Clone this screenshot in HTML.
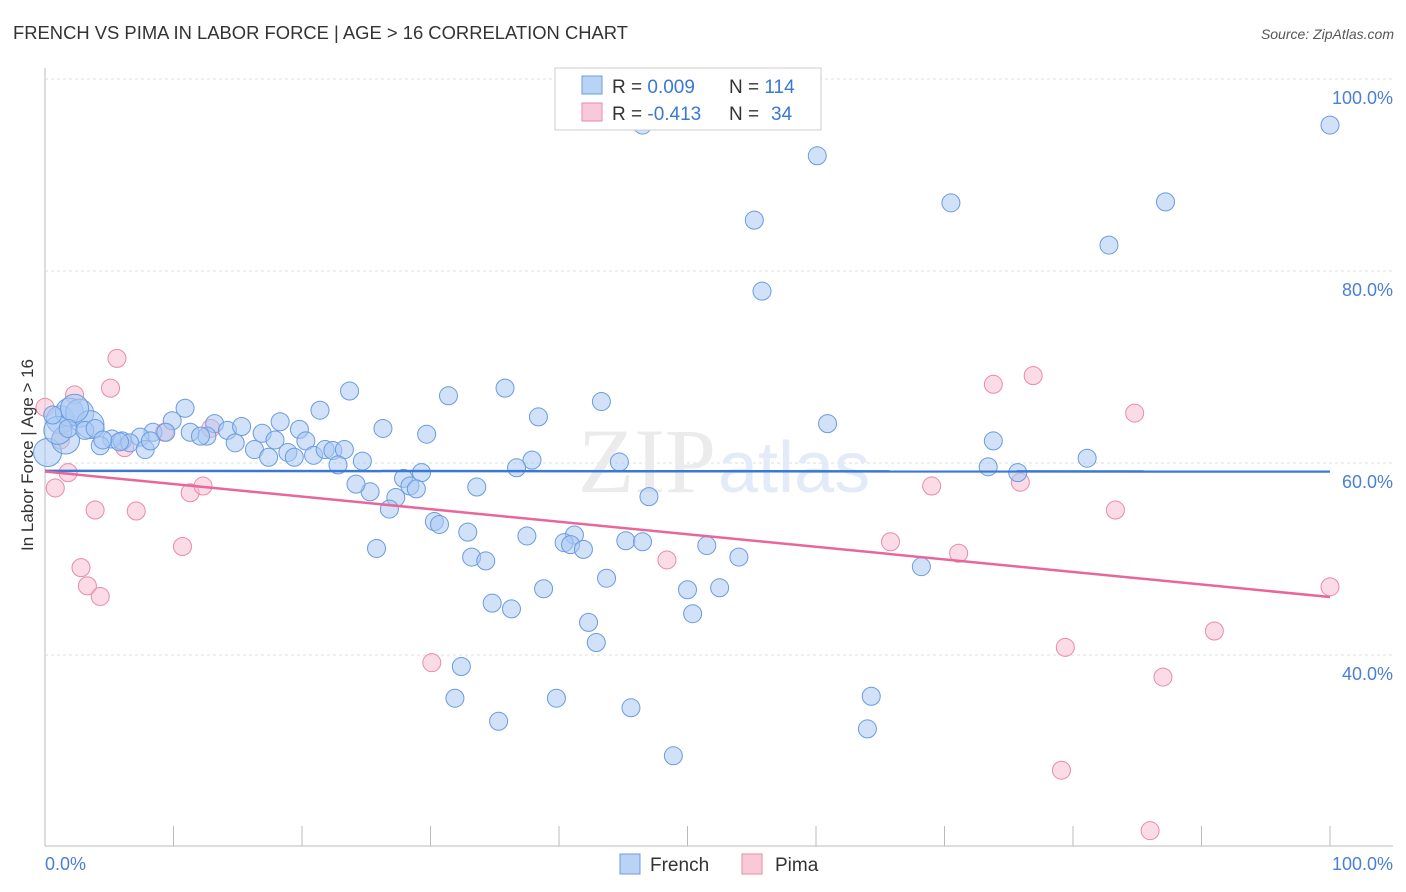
<!DOCTYPE html>
<html><head><meta charset="utf-8"><style>
body{margin:0;background:#fff;font-family:"Liberation Sans",sans-serif;}
svg{display:block}
</style></head><body>
<svg id="chart" width="1406" height="892">
<text x="13" y="39" font-size="18" fill="#333" textLength="615" lengthAdjust="spacingAndGlyphs">FRENCH VS PIMA IN LABOR FORCE | AGE &gt; 16 CORRELATION CHART</text>
<text x="1394" y="39" font-size="14" fill="#555" font-style="italic" text-anchor="end">Source: ZipAtlas.com</text>
<g id="grid"></g>
<text x="716" y="492" font-size="92" fill="#ebebeb" text-anchor="end" font-family="Liberation Serif">ZIP</text>
<text x="718" y="492" font-size="72" fill="#e2ebf7">atlas</text>
<g id="marks"></g>
<text transform="translate(33,455) rotate(-90)" font-size="17" fill="#333" text-anchor="middle">In Labor Force | Age &gt; 16</text>
<text x="45" y="870" font-size="18" fill="#4a7fd4">0.0%</text>
<text x="1393" y="870" font-size="18" fill="#4a7fd4" text-anchor="end">100.0%</text>
<g>
<rect x="555" y="68" width="266" height="62" fill="#fff" stroke="#ccc"/>
<rect x="582" y="76" width="20" height="18" fill="#b9d3f5" stroke="#6a9be0"/>
<rect x="582" y="103" width="20" height="18" fill="#f9c9d8" stroke="#e88aa8"/>
<text x="612" y="93" font-size="19" fill="#333">R = <tspan fill="#3a78d4">0.009</tspan><tspan x="729">N = </tspan><tspan fill="#3a78d4">114</tspan></text>
<text x="612" y="120" font-size="19" fill="#333">R = <tspan fill="#3a78d4">-0.413</tspan><tspan x="729">N = </tspan><tspan fill="#3a78d4" x="771">34</tspan></text>
</g>
<g>
<rect x="620" y="854" width="20" height="20" fill="#b9d3f5" stroke="#6a9be0"/>
<text x="650" y="871" font-size="19" fill="#333">French</text>
<rect x="742" y="854" width="20" height="20" fill="#f9c9d8" stroke="#e88aa8"/>
<text x="775" y="871" font-size="19" fill="#333">Pima</text>
</g>
</svg>
<script>
const yTicks=[40,60,80,100];
const yTickLabels=["40.0%","60.0%","80.0%","100.0%"];
const xTicks=[0,10,20,30,40,50,60,70,80,90,100];
const frenchX=[46.5,100,60.1,70.5,87.2,55.2,82.8,55.8,23.7,35.8,31.4,43.3,38.4,21.4,10.9,60.9,73.8,26.3,29.7,9.9,13.2,18.3,19.8,14.2,15.3,16.9,11.3,12.6,8.4,9.4,7.4,5.2,6.0,4.3,6.6,7.8,8.2,12.1,14.8,16.3,17.4,17.9,18.9,19.4,20.3,20.9,21.8,22.4,23.3,22.8,24.7,27.9,29.3,28.4,28.9,27.3,25.3,24.2,26.8,33.6,37.9,36.7,44.7,73.4,75.7,81.1,30.3,30.7,32.9,37.5,41.2,40.4,40.9,41.9,45.2,46.5,51.5,54.0,47.0,25.8,33.2,34.3,38.8,43.7,50.0,52.5,68.2,34.8,36.3,42.3,50.4,42.9,32.4,31.9,39.8,45.6,35.3,64.3,64.0,48.9,0.2,1.2,1.9,2.7,3.5,1.6,1.0,2.3,5.8,0.6,1.8,3.1,3.9,4.5];
const frenchY=[95.2,95.2,92.0,87.1,87.2,85.3,82.7,77.9,67.5,67.8,67.0,66.4,64.8,65.5,65.7,64.1,62.3,63.6,63.0,64.4,64.1,64.3,63.5,63.4,63.8,63.1,63.2,62.8,63.2,63.2,62.7,62.5,62.3,61.8,62.1,61.4,62.3,62.8,62.1,61.4,60.6,62.4,61.1,60.6,62.3,60.8,61.4,61.3,61.4,59.8,60.2,58.4,59.0,57.6,57.3,56.4,57.0,57.8,55.2,57.5,60.3,59.5,60.1,59.6,59.0,60.5,53.9,53.6,52.8,52.4,52.5,51.7,51.5,51.0,51.9,51.8,51.4,50.2,56.5,51.1,50.2,49.8,46.9,48.0,46.8,47.0,49.2,45.4,44.8,43.4,44.3,41.3,38.8,35.5,35.5,34.5,33.1,35.7,32.3,29.5,61.1,64.5,65.3,65.2,64.0,62.4,63.4,65.7,62.2,65.0,63.6,63.4,63.6,62.4];
const pimaX=[5.6,5.1,2.3,0,1.2,1.8,0.8,3.9,7.1,11.3,12.3,10.7,2.8,3.3,4.3,6.2,9.3,12.9,73.8,76.9,84.8,69.0,75.9,83.3,65.8,71.1,48.4,30.1,91.0,79.4,87.0,79.1,86.0,100];
const pimaY=[70.9,67.8,67.1,65.8,62.4,59.0,57.4,55.1,55.0,56.9,57.6,51.3,49.1,47.2,46.1,61.6,63.2,63.6,68.2,69.1,65.2,57.6,58.0,55.1,51.8,50.6,49.9,39.2,42.5,40.8,37.7,28.0,21.7,47.1];
const NS="http://www.w3.org/2000/svg";
const X=v=>45+v*12.85, Y=v=>847-(v-20)*9.6;
const grid=document.getElementById('grid'), marks=document.getElementById('marks');
function mk(tag,attrs,parent){const e=document.createElementNS(NS,tag);for(const k in attrs)e.setAttribute(k,attrs[k]);parent.appendChild(e);return e;}
let ax=mk('line',{x1:45,y1:68,x2:45,y2:846,stroke:'#bbb'},grid);


let bx=mk('line',{x1:45,y1:846,x2:1393,y2:846,stroke:'#bbb'},grid);


yTicks.forEach((t,i)=>{
 const l=mk('line',{x1:45,x2:1393,y1:Y(t),y2:Y(t),stroke:'#ddd','stroke-dasharray':'3,3'},grid);
 
 
 const tx=mk('text',{x:1393,y:Y(t)+25,'font-size':18,fill:'#4a7fd4','text-anchor':'end'},grid);
 tx.textContent=yTickLabels[i];
 
 
});
xTicks.forEach(t=>{
 const l=mk('line',{x1:X(t),x2:X(t),y1:826,y2:846,stroke:'#bbb'},grid);
 
 
});
function reg(xs,ys){const n=xs.length;let mx=0,my=0;for(let i=0;i<n;i++){mx+=xs[i];my+=ys[i];}mx/=n;my/=n;let a=0,b=0;for(let i=0;i<n;i++){a+=(xs[i]-mx)*(ys[i]-my);b+=(xs[i]-mx)**2;}const s=a/b;return [my-s*mx,my+s*(100-mx)];}
function series(xs,ys,fill,stroke,name,big){
 xs.forEach((x,i)=>{
  const r=(big&&i>=xs.length-14&&i<xs.length-6)?14:9;
  const c=mk('circle',{cx:X(x),cy:Y(ys[i]),r:r,fill:fill,'fill-opacity':0.55,stroke:stroke,'stroke-width':1},marks);
  
  
 });
}
series(pimaX,pimaY,'#f7bfd1','#e88aa8','pima',false);
series(frenchX,frenchY,'#a9c9f2','#6a9be0','french',true);
const fb=reg(frenchX,frenchY), pb=reg(pimaX,pimaY);
let fl=mk('line',{x1:X(0),y1:Y(fb[0]),x2:X(100),y2:Y(fb[1]),stroke:'#3a78d4','stroke-width':2.5},marks);


let pl=mk('line',{x1:X(0),y1:Y(pb[0]),x2:X(100),y2:Y(pb[1]),stroke:'#e8679a','stroke-width':2.5},marks);


</script>
</body></html>
